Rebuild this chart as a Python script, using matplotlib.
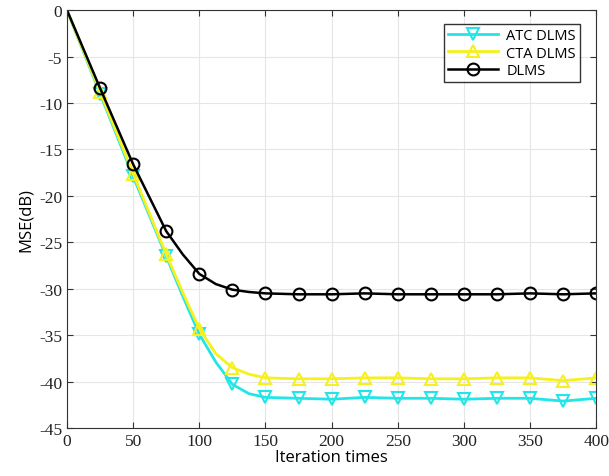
import matplotlib
matplotlib.use("Agg")
import matplotlib.pyplot as plt

iters = [0, 25, 50, 75, 87.5, 100, 112.5, 125, 137.5, 150, 175, 200, 225, 250, 275, 300, 325, 350, 375, 400]
atc = [0, -9.0, -17.9, -26.5, -30.8, -34.9, -37.9, -40.3, -41.3, -41.7, -41.8, -41.9, -41.7, -41.8, -41.8, -41.9, -41.8, -41.8, -42.1, -41.8]
cta = [0, -8.8, -17.6, -26.3, -30.4, -34.3, -37.0, -38.5, -39.2, -39.6, -39.7, -39.7, -39.6, -39.6, -39.7, -39.7, -39.6, -39.6, -39.9, -39.6]
dlms = [0, -8.4, -16.6, -23.8, -26.3, -28.4, -29.5, -30.1, -30.35, -30.5, -30.6, -30.6, -30.5, -30.6, -30.6, -30.6, -30.6, -30.5, -30.6, -30.5]
marker_iters = [25, 50, 75, 100, 125, 150, 175, 200, 225, 250, 275, 300, 325, 350, 375, 400]
labels = ["ATC DLMS", "CTA DLMS", "DLMS"]
xticks = [0, 50, 100, 150, 200, 250, 300, 350, 400]
yticks = [0, -5, -10, -15, -20, -25, -30, -35, -40, -45]

mk = [iters.index(v) for v in marker_iters]

fig = plt.figure(figsize=(6.09, 4.77), dpi=100)
ax = fig.add_axes([0.110, 0.1006, 0.869, 0.876])

ax.plot(iters, atc, color="#22e5e8", lw=2, marker="v", ms=9, mfc="none", mew=1.5, label=labels[0], markevery=mk)
ax.plot(iters, cta, color="#f5f01e", lw=2, marker="^", ms=9, mfc="none", mew=1.5, label=labels[1], markevery=mk)
ax.plot(iters, dlms, color="black", lw=1.8, marker="o", ms=8.5, mfc="none", mew=1.5, label=labels[2], markevery=mk)

ax.set_xlim(0, 400)
ax.set_ylim(-45, 0)
ax.set_xticks(xticks)
ax.set_yticks(yticks)
ax.set_xticklabels([str(v) for v in xticks], family="Liberation Serif", fontsize=12.5, color="#222222")
ax.set_yticklabels([str(v) for v in yticks], family="Liberation Serif", fontsize=12.5, color="#222222")
ax.tick_params(direction="in", top=True, right=True, length=4, color="#333333")
ax.grid(True, color="#e6e6e6", lw=0.8)
for s in ax.spines.values():
    s.set_color("#333333")

ax.set_xlabel("Iteration times", family="Open Sans", fontsize=12, labelpad=0)
ax.set_ylabel("MSE(dB)", family="Open Sans", fontsize=12, labelpad=4)

leg = ax.legend(loc="upper right", bbox_to_anchor=(0.97, 0.967), borderaxespad=0,
                prop={"family": "Open Sans", "size": 10.5},
                frameon=True, fancybox=False, edgecolor="black", handlelength=3.4,
                labelspacing=0.15, borderpad=0.3, handletextpad=0.6)
leg.get_frame().set_linewidth(1.0)

fig.savefig("out.png", dpi=100)
